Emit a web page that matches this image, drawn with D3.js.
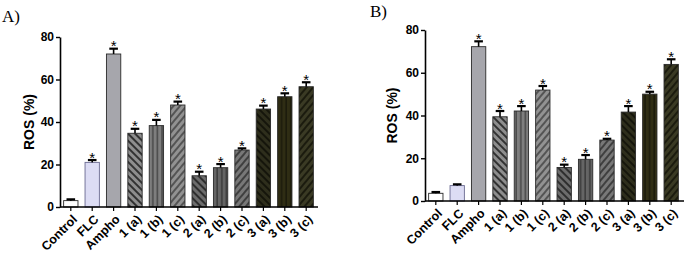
<!DOCTYPE html>
<html>
<head>
<meta charset="utf-8">
<script src="https://cdnjs.cloudflare.com/ajax/libs/d3/7.8.5/d3.min.js"></script>
<style>
  html, body { margin: 0; padding: 0; background: #fff; }
  svg { display: block; font-family: "Liberation Sans", Arial, sans-serif; }
</style>
</head>
<body>
<svg id="chart" width="686" height="260"></svg>
<script>
'use strict';

var categories = ["Control", "FLC", "Ampho", "1 (a)", "1 (b)", "1 (c)",
                  "2 (a)", "2 (b)", "2 (c)", "3 (a)", "3 (b)", "3 (c)"];

// panel A
var rosA   = [3.0, 21.0, 72.0, 34.7, 38.3, 48.0, 14.7, 18.5, 26.8, 46.1, 51.9, 56.6];
var errA   = [0.6,  1.1,  2.5,  2.1,  2.7,  1.6,  1.9,  1.7,  0.8,  1.6,  1.6,  2.1];
var starsA = [false, true, true, true, true, true, true, true, true, true, true, true];

// panel B
var rosB   = [3.6, 7.2, 72.2, 39.4, 42.1, 51.9, 15.7, 19.5, 28.5, 41.6, 50.0, 63.9];
var errB   = [0.6, 0.6,  2.5,  2.7,  2.3,  1.9,  1.3,  2.0,  0.6,  2.8,  1.1,  2.4];
var starsB = [false, false, true, true, true, true, true, true, true, true, true, true];

var yTicks = [0, 20, 40, 60, 80];

// fill style per category: background colour, hatch kind, hatch colour
var fills = [
    {bg: "#ffffff", hatch: null},
    {bg: "#dcdcf4", hatch: null, stroke: "#6a6a90"},
    {bg: "#a6a6ac", hatch: null},
    {bg: "#8e8e8e", hatch: "back", line: "#1a1a1a"},
    {bg: "#7e7e7e", hatch: "vert", line: "#333333"},
    {bg: "#929292", hatch: "fwd",  line: "#444444"},
    {bg: "#6c6c6c", hatch: "back", line: "#1e1e1e"},
    {bg: "#656565", hatch: "vert", line: "#2a2a2a"},
    {bg: "#787878", hatch: "fwd",  line: "#303030"},
    {bg: "#2e2e1c", hatch: "back", line: "#0e0e06"},
    {bg: "#2f2d14", hatch: "vert", line: "#121208"},
    {bg: "#3a3a24", hatch: "fwd",  line: "#131308"}
];

var svg = d3.select("#chart");
var defs = svg.append("defs");

// hatch patterns
fills.forEach(function(f, i) {
    if (!f.hatch) return;
    var p = defs.append("pattern")
        .attr("id", "hatch" + i)
        .attr("patternUnits", "userSpaceOnUse")
        .attr("width", f.hatch === "vert" ? 4.6 : 5)
        .attr("height", 10);
    if (f.hatch === "back") p.attr("patternTransform", "rotate(-45)");
    if (f.hatch === "fwd")  p.attr("patternTransform", "rotate(40)");
    p.append("rect").attr("width", 10).attr("height", 10).attr("fill", f.bg);
    p.append("line")
        .attr("x1", 1).attr("x2", 1).attr("y1", 0).attr("y2", 10)
        .attr("stroke", f.line)
        .attr("stroke-width", f.hatch === "vert" ? 1.1 : 1.6);
});

function fillOf(i) {
    return fills[i].hatch ? "url(#hatch" + i + ")" : fills[i].bg;
}

function bar_panel(cfg) {
    var config = Object.assign({
        title: "A)",
        titleX: 3, titleY: 22,
        x0: 60, x1: 317,
        yTop: 37, yBottom: 207,
        axisEnd: 318,
        labelX: 28,
        values: [], errors: [], stars: []
    }, cfg);

    var g = svg.append("g");

    var xScale = d3.scaleBand()
        .domain(categories)
        .range([config.x0, config.x1])
        .paddingInner(0.33)
        .paddingOuter(0.17);
    var yScale = d3.scaleLinear().domain([0, 80]).range([config.yBottom, config.yTop]);

    // title
    g.append("text")
        .attr("x", config.titleX)
        .attr("y", config.titleY)
        .style("font-family", "'Liberation Serif', 'Times New Roman', serif")
        .style("font-size", "17px")
        .text(config.title);

    // bars
    g.selectAll("rect.bar")
        .data(config.values)
        .enter().append("rect")
            .attr("class", "bar")
            .attr("x", function(d, i){return xScale(categories[i]);})
            .attr("width", xScale.bandwidth())
            .attr("y", function(d){return yScale(d);})
            .attr("height", function(d){return yScale(0) - yScale(d);})
            .attr("fill", function(d, i){return fillOf(i);})
            .attr("stroke", function(d, i){return fills[i].stroke || "#2a2a2a";})
            .attr("stroke-width", 0.9);

    // error bars (upper only) and significance stars
    var capW = xScale.bandwidth() * 0.6;
    config.values.forEach(function(v, i) {
        var cx = xScale(categories[i]) + xScale.bandwidth() / 2,
            top = yScale(v + config.errors[i]);
        g.append("line")
            .attr("x1", cx).attr("x2", cx)
            .attr("y1", yScale(v)).attr("y2", top)
            .attr("stroke", "#000").attr("stroke-width", 1.6);
        g.append("line")
            .attr("x1", cx - capW / 2).attr("x2", cx + capW / 2)
            .attr("y1", top).attr("y2", top)
            .attr("stroke", "#000").attr("stroke-width", 2.2);
        if (config.stars[i]) {
            g.append("text")
                .attr("x", cx)
                .attr("y", top + 2.5)
                .attr("text-anchor", "middle")
                .style("font-size", "15px")
                .text("*");
        }
    });

    // y axis
    var yAxis = d3.axisLeft(yScale).tickValues(yTicks).tickSize(4).tickSizeOuter(0).tickPadding(2);
    var ya = g.append("g")
        .attr("transform", "translate(" + config.x0 + ",0)")
        .call(yAxis);
    ya.select(".domain").attr("stroke-width", 1.6);
    ya.selectAll(".tick line").attr("stroke-width", 1.4);
    ya.selectAll("text")
        .style("font-size", "12px")
        .style("font-weight", "bold")
        .style("font-family", "'Liberation Sans', Arial, sans-serif");

    // x axis, rotated labels
    var xAxis = d3.axisBottom(xScale).tickSize(4).tickSizeOuter(0);
    var xa = g.append("g")
        .attr("transform", "translate(0," + config.yBottom + ")")
        .call(xAxis);
    xa.select(".domain").attr("d", "M" + config.x0 + ",0H" + config.axisEnd).attr("stroke-width", 1.6);
    xa.selectAll(".tick line").attr("stroke-width", 1.2);
    xa.selectAll("text")
        .attr("y", 0).attr("dy", "0.35em")
        .attr("transform", "translate(4,10) rotate(-45)")
        .style("text-anchor", "end")
        .style("font-size", "12.5px")
        .style("font-weight", "bold")
        .style("font-family", "'Liberation Sans', Arial, sans-serif");

    // y label
    g.append("text")
        .attr("transform", "translate(" + config.labelX + "," + ((config.yTop + config.yBottom) / 2) + ") rotate(-90)")
        .attr("text-anchor", "middle")
        .attr("dy", "0.35em")
        .style("font-size", "14px")
        .style("font-weight", "bold")
        .text("ROS (%)");
}

bar_panel({
    title: "A)", titleX: 2, titleY: 22,
    x0: 60, x1: 317, axisEnd: 318,
    yTop: 37, yBottom: 207, labelX: 29,
    values: rosA, errors: errA, stars: starsA
});

bar_panel({
    title: "B)", titleX: 370, titleY: 17,
    x0: 425, x1: 682, axisEnd: 684,
    yTop: 30, yBottom: 201, labelX: 392,
    values: rosB, errors: errB, stars: starsB
});
</script>
</body>
</html>
